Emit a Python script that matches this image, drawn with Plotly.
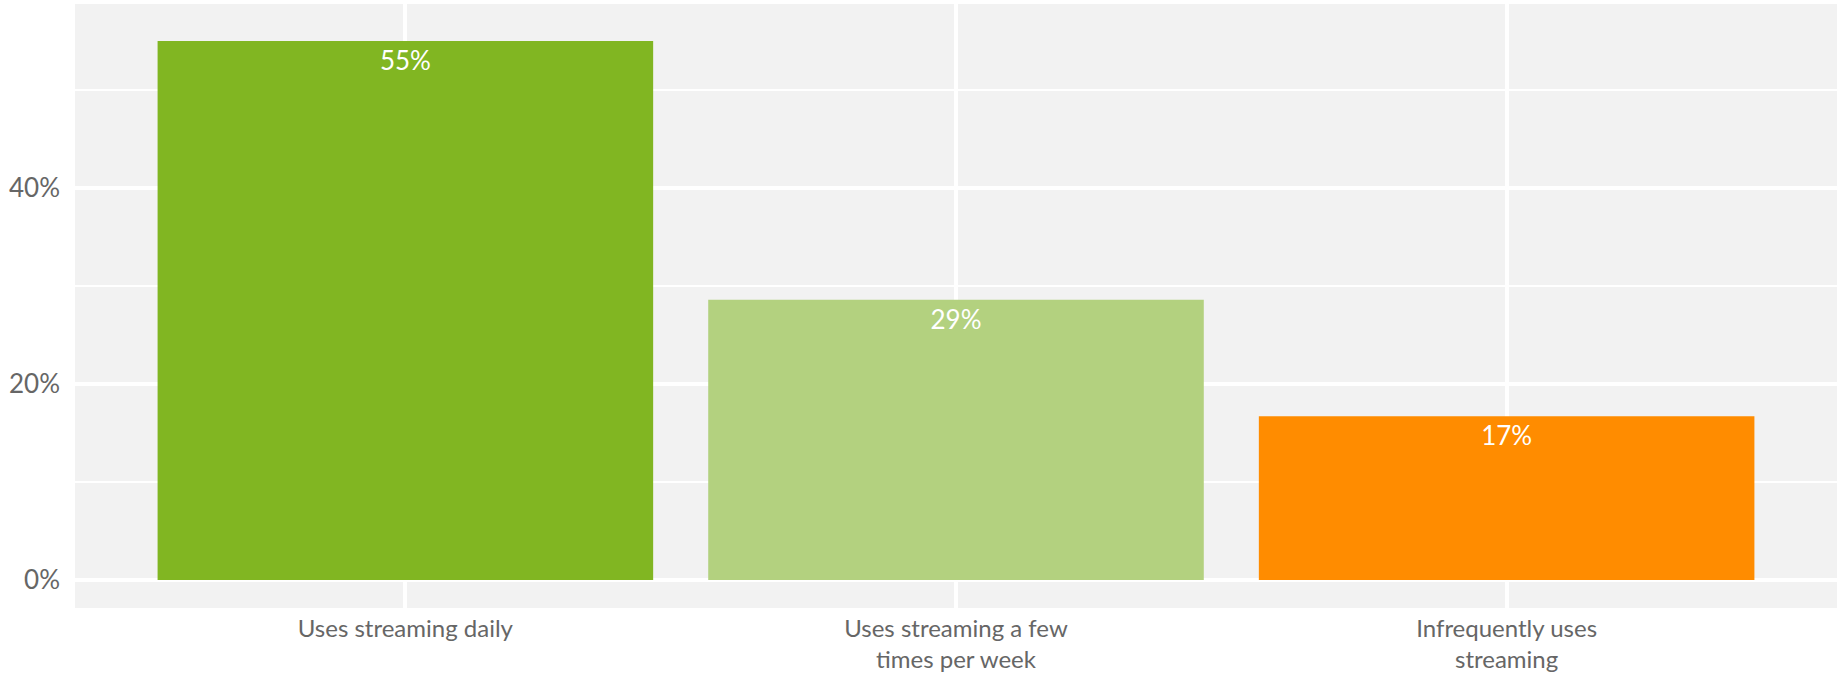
import plotly.graph_objects as go

categories = ["Uses streaming daily", "Uses streaming a few<br>times per week", "Infrequently uses<br>streaming"]
values = [55.0, 28.6, 16.7]
colors = ["#81B622", "#B3D17F", "#FF8C00"]
y_tickvals = [0, 20, 40]
y_ticktext = ["0%", "20%", "40%"]

fig = go.Figure()
fig.add_trace(go.Bar(
    x=categories, y=values, width=0.9,
    marker=dict(color=colors, line=dict(width=0)),
    texttemplate="%{y:.0f}%", textposition="inside", insidetextanchor="end",
    textfont=dict(family="Lato", size=26, color="white"),
    textangle=0, hoverinfo="skip",
))

fig.update_layout(
    width=1841, height=675,
    margin=dict(l=75, r=4, t=4, b=67),
    paper_bgcolor="white", plot_bgcolor="#F2F2F2",
    showlegend=False, bargap=0.1,
    font=dict(family="Lato", color="#666666"),
)
fig.update_xaxes(
    type="category", range=[-0.6, 2.6], automargin=False,
    showgrid=True, gridcolor="white", gridwidth=3.5,
    showline=False, zeroline=False, ticks="",
    tickfont=dict(family="Lato", size=24, color="#666666"),
    ticklabelstandoff=4,
)
fig.update_yaxes(
    range=[-2.86, 58.78], automargin=False,
    tickvals=y_tickvals, ticktext=y_ticktext,
    showgrid=True, gridcolor="white", gridwidth=3.5,
    minor=dict(tick0=0, dtick=10, showgrid=True, gridcolor="white", gridwidth=1.8, ticks=""),
    showline=False, zeroline=False, ticks="",
    tickfont=dict(family="Lato", size=26, color="#666666"),
    ticklabelstandoff=14,
)

fig.write_html(
    "out.html",
    config={"displayModeBar": False},
    post_script="document.body.style.margin='0';document.body.style.padding='0';",
)
